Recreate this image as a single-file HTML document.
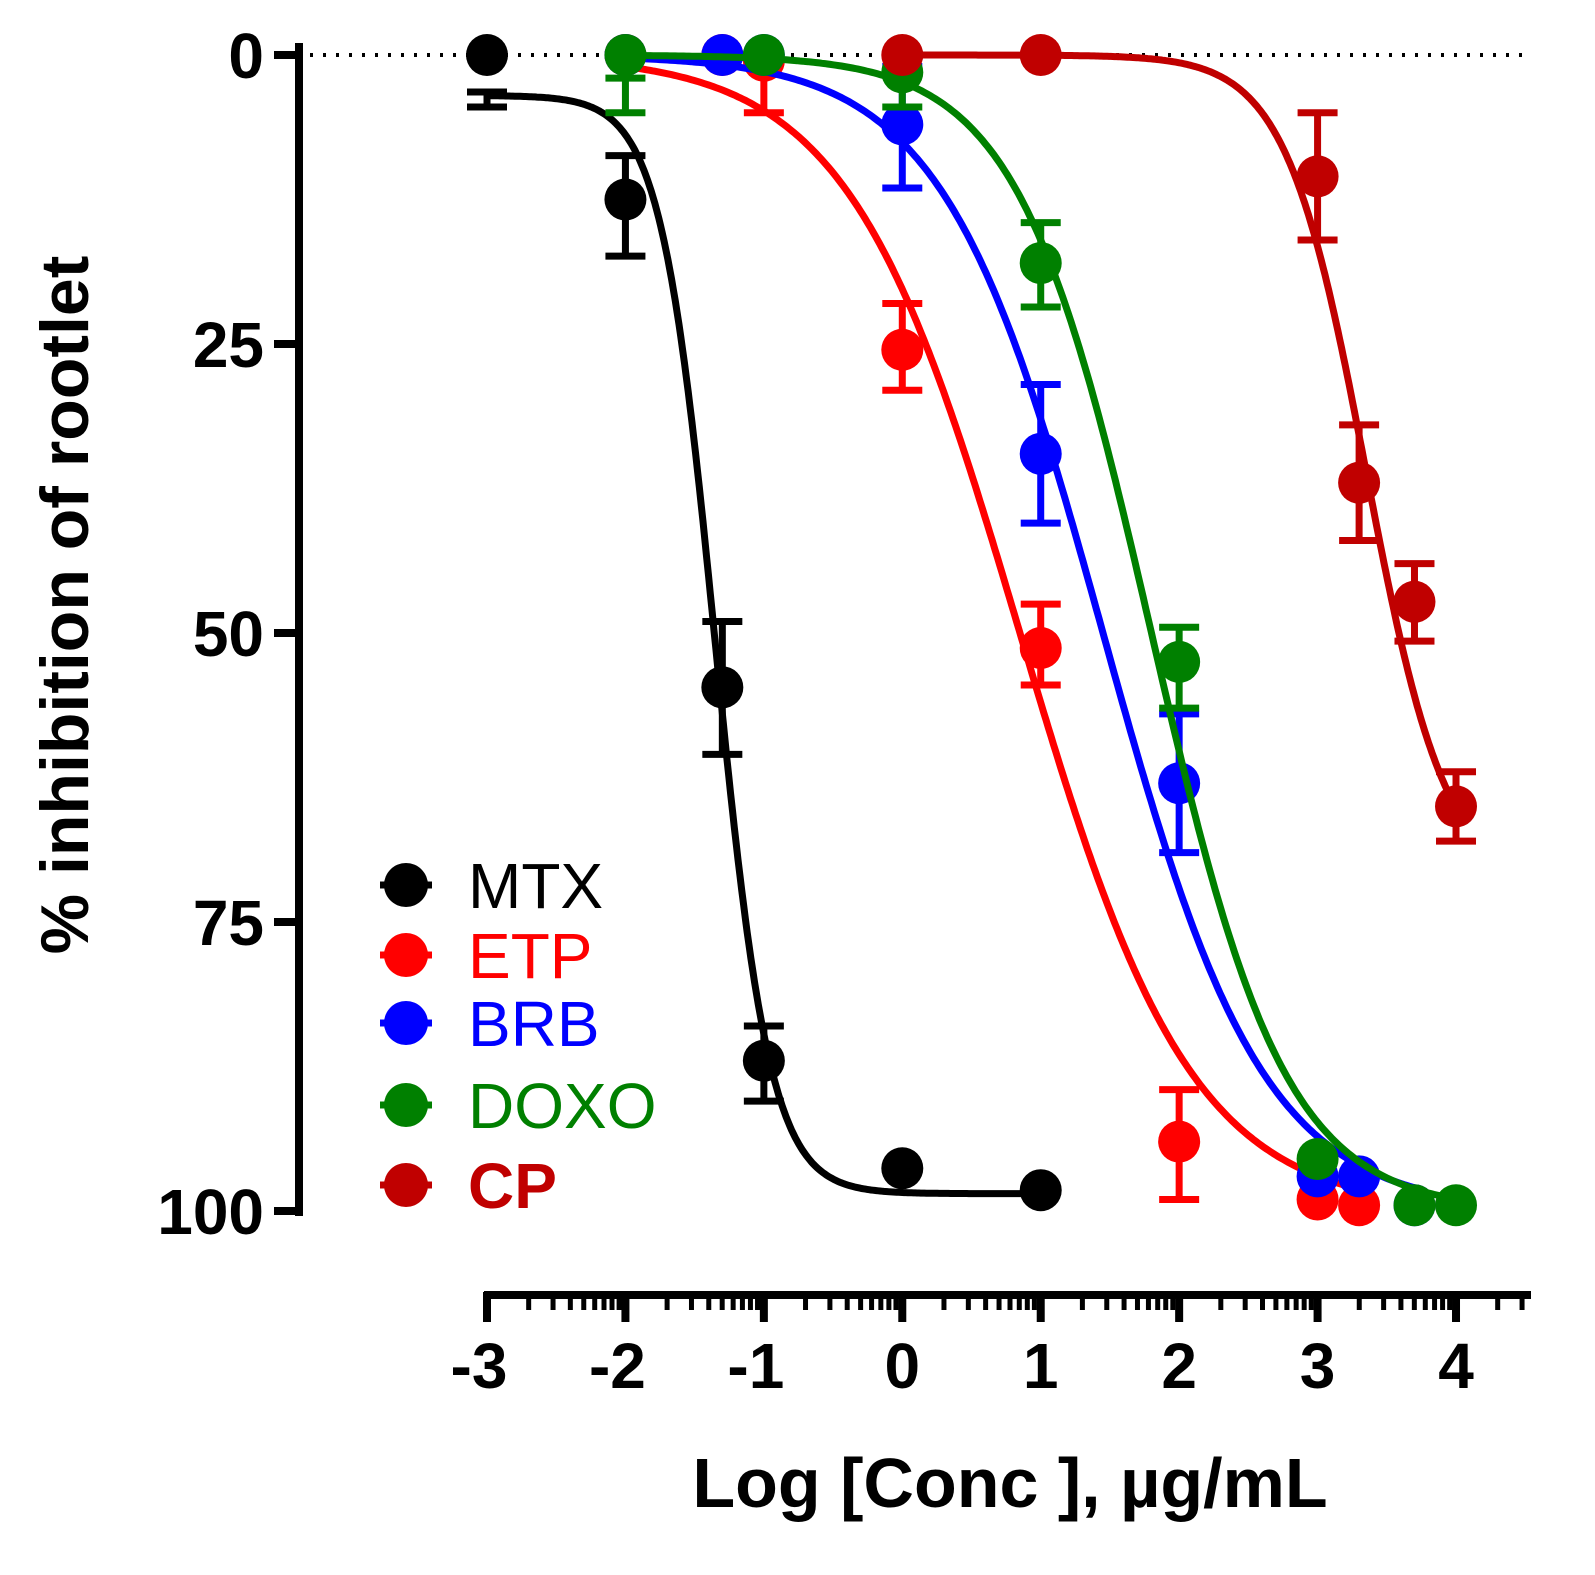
<!DOCTYPE html>
<html><head><meta charset="utf-8"><style>
body{margin:0;background:#fff}
svg{display:block;font-family:"Liberation Sans",Arial,sans-serif}
</style></head><body>
<svg id="chart" width="1595" height="1575" viewBox="0 0 1595 1575" xmlns="http://www.w3.org/2000/svg">
<g id="axes"></g>
<g id="series"></g>
<g id="legend"></g>
<text transform="translate(88,605) rotate(-90)" text-anchor="middle" font-size="68" font-weight="bold">% inhibition of rootlet</text>
<text x="1010" y="1507" text-anchor="middle" font-size="70" font-weight="bold">Log [Conc ], µg/mL</text>
</svg>
<script>
const seriesNames = ["MTX","ETP","BRB","DOXO","CP"];
const seriesColors = ["#000000","#ff0000","#0000ff","#008000","#c00000"];
const mtxX = [-3,-2,-1.3,-1,0,1];
const mtxY = [0,12.5,54.7,87,96.3,98.2];
const mtxErrLo = [null,8.7,49,84,null,null];
const mtxErrHi = [null,17.4,60.5,90.5,null,null];
const etpX = [-2,-1.3,-1,0,1,2,3,3.3];
const etpY = [0,0,0.5,25.5,51.3,94,99,99.5];
const etpErrLo = [null,null,0,21.5,47.5,89.5,null,null];
const etpErrHi = [null,null,5,29,54.5,99,null,null];
const brbX = [-2,-1.3,-1,0,1,2,3,3.3,3.7];
const brbY = [0,0,0,6,34.5,63,97,97,99.5];
const brbErrLo = [null,null,null,1,28.5,57,null,null,null];
const brbErrHi = [null,null,null,11.5,40.5,69,null,null,null];
const doxoX = [-2,-1,0,1,2,3,3.7,4];
const doxoY = [0,0,1.5,18,52.5,95.5,99.5,99.5];
const doxoErrLo = [2,null,0,14.5,49.5,null,null,null];
const doxoErrHi = [5,null,4.5,21.8,56.5,null,null,null];
const cpX = [0,1,3,3.3,3.7,4];
const cpY = [0,0,10.5,37,47.3,65];
const cpErrLo = [null,null,5,32,44,62];
const cpErrHi = [null,null,16,42,50.7,68];
// Hill fit params
const fitBottom = [3.5,0,0,0,0];
const fitTop = [98.5,100,100,100,72];
const fitIC50 = [-1.35,0.85,1.45,1.8,3.35];
const fitSlope = [2.2,0.7,0.75,0.9,1.5];
const fitXmin = [-3,-2,-2,-2,0];
const fitXmax = [1,3.3,3.7,4,4];
const yTicks = [0,25,50,75,100];
const xTicks = [-3,-2,-1,0,1,2,3,4];

const NS="http://www.w3.org/2000/svg";
const xs=v=>487+(v+3)*138.43;
const ys=v=>55+v*11.56;
function mk(tag,attrs,parent){const e=document.createElementNS(NS,tag);for(const k in attrs)e.setAttribute(k,attrs[k]);parent.appendChild(e);return e;}
const axes=document.getElementById('axes');
let e;
e=mk('line',{x1:310,y1:55,x2:1530,y2:55,stroke:'#000','stroke-width':4,'stroke-dasharray':'3,10'},axes);


e=mk('line',{x1:299,y1:43,x2:299,y2:1216,stroke:'#000','stroke-width':8},axes);


yTicks.forEach(t=>{
 e=mk('line',{x1:274,y1:ys(t),x2:302,y2:ys(t),stroke:'#000','stroke-width':8},axes);
 
 
 e=mk('text',{x:264,y:ys(t)+23,'text-anchor':'end','font-size':64,'font-weight':'bold'},axes);
 e.textContent=t;
 
 
});
e=mk('line',{x1:484,y1:1295,x2:1531,y2:1295,stroke:'#000','stroke-width':8},axes);


xTicks.forEach(t=>{
 e=mk('line',{x1:xs(t),y1:1292,x2:xs(t),y2:1322,stroke:'#000','stroke-width':8},axes);
 
 
 e=mk('text',{x:xs(t)-(t<0?8:0),y:1388,'text-anchor':'middle','font-size':64,'font-weight':'bold'},axes);
 e.textContent=t;
 
 
 for(let m=2;m<=9;m++){const v=t+Math.log10(m);if(v>4.55)break;
  e=mk('line',{x1:xs(v),y1:1292,x2:xs(v),y2:1310,stroke:'#000','stroke-width':5},axes);
  
  }
});
const ser=document.getElementById('series');
const X=[mtxX,etpX,brbX,doxoX,cpX],Y=[mtxY,etpY,brbY,doxoY,cpY],L=[mtxErrLo,etpErrLo,brbErrLo,doxoErrLo,cpErrLo],H=[mtxErrHi,etpErrHi,brbErrHi,doxoErrHi,cpErrHi];
seriesNames.forEach((n,i)=>{
 const g=mk('g',{},ser);
 
 
 let d='';
 for(let k=0;k<=300;k++){const x=fitXmin[i]+(fitXmax[i]-fitXmin[i])*k/300;
  const y=fitBottom[i]+(fitTop[i]-fitBottom[i])/(1+Math.pow(10,(fitIC50[i]-x)*fitSlope[i]));
  d+=(k?'L':'M')+xs(x).toFixed(1)+','+ys(y).toFixed(1);}
 e=mk('path',{d:d,fill:'none',stroke:seriesColors[i],'stroke-width':7},g);
 
 
 X[i].forEach((x,j)=>{
  if(L[i][j]!=null){
   const cx=xs(x),a=ys(L[i][j]),b=ys(H[i][j]);
   e=mk('path',{d:`M${cx},${a}V${b}M${cx-20},${a}H${cx+20}M${cx-20},${b}H${cx+20}`,stroke:seriesColors[i],'stroke-width':7,fill:'none'},g);
   
   
  }
  e=mk('circle',{cx:xs(x),cy:ys(Y[i][j]),r:21,fill:seriesColors[i]},g);
  
  
 });
});
e=mk('path',{d:`M${xs(-3)},${ys(3)}V${ys(4.5)}M${xs(-3)-20},${ys(3.2)}H${xs(-3)+20}M${xs(-3)-20},${ys(4.5)}H${xs(-3)+20}`,stroke:'#000','stroke-width':7,fill:'none'},ser);


const leg=document.getElementById('legend');
const legY=[885,955,1023,1105,1185];
seriesNames.forEach((n,i)=>{
 const g=mk('g',{},leg);
 
 
 mk('line',{x1:380,y1:legY[i],x2:432,y2:legY[i],stroke:seriesColors[i],'stroke-width':7},g);
 mk('circle',{cx:406,cy:legY[i],r:22,fill:seriesColors[i]},g);
 e=mk('text',{x:468,y:legY[i]+23,'font-size':64,fill:seriesColors[i],'font-weight':n==='CP'?'bold':'normal'},g);
 e.textContent=n;
});
</script>
</body></html>
